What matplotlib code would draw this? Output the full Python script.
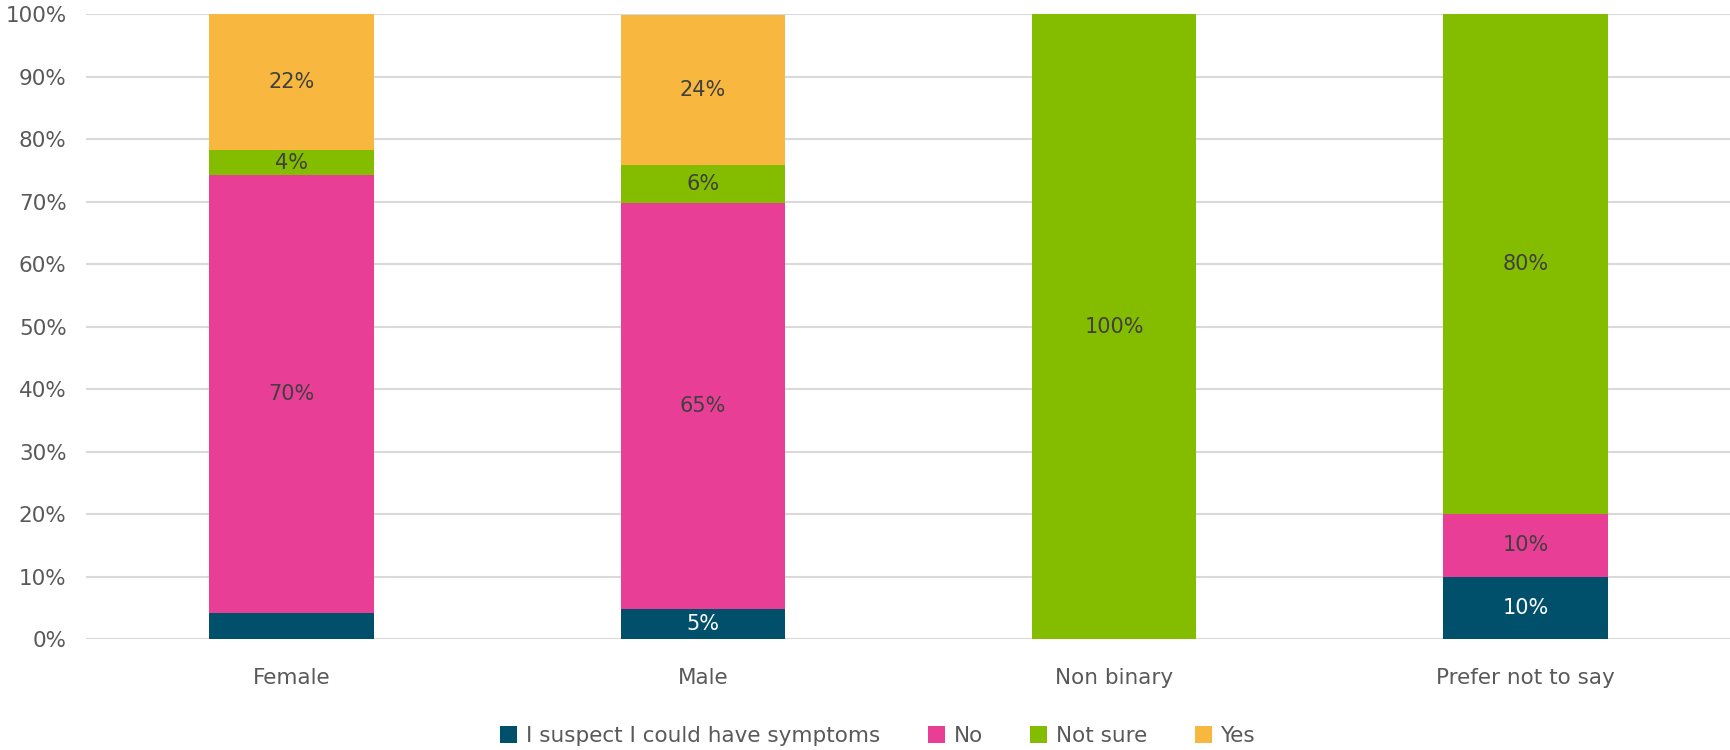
import matplotlib.pyplot as plt
import numpy as np

plt.rcParams['font.family'] = ['DejaVu Sans']

categories = ["Female", "Male", "Non binary", "Prefer not to say"]
series = ["I suspect I could have symptoms", "No", "Not sure", "Yes"]
suspect = [4.2, 4.8, 0, 10]
no = [70, 65, 0, 10]
not_sure = [4, 6, 100, 80]
yes = [22, 24, 0, 0]
colors = ["#00506b", "#e83e96", "#84bd00", "#f8b73e"]
text_colors = ["white", "#404040", "#404040", "#404040"]
hidden = {(0, 0)}  # female's bottom segment has no label in the original

fig = plt.figure(figsize=(17.31, 7.5), dpi=100)
ax = fig.add_axes([0.0497, 0.148, 0.9503, 0.833])

x = np.arange(len(categories))
bottom = np.zeros(len(categories))
for i, (name, vals) in enumerate(zip(series, [suspect, no, not_sure, yes])):
    vals = np.array(vals, dtype=float)
    ax.bar(x, vals, 0.4, bottom=bottom, color=colors[i], label=name, zorder=3)
    for j, v in enumerate(vals):
        if v > 0 and (i, j) not in hidden:
            ax.text(x[j], bottom[j] + v / 2, f"{v:.0f}%", ha="center", va="center",
                    color=text_colors[i], fontsize=15, zorder=4)
    bottom += vals

ax.set_xlim(-0.5, len(categories) - 0.5)
ax.set_ylim(0, 100)
ax.set_yticks(range(0, 101, 10))
ax.set_yticklabels([f"{t}%" for t in range(0, 101, 10)])
ax.set_xticks(x)
ax.set_xticklabels(categories)
ax.tick_params(axis="both", length=0, labelsize=15.5, labelcolor="#595959")
ax.tick_params(axis="x", pad=21)
ax.tick_params(axis="y", pad=14)
ax.grid(axis="y", color="#d9d9d9", linewidth=1.5, zorder=0)
for s in ax.spines.values():
    s.set_visible(False)

fig.legend(loc="center", bbox_to_anchor=(0.507, 0.019), ncol=4, frameon=False,
           fontsize=15.5, labelcolor="#595959", handlelength=0.8, handleheight=0.8,
           handletextpad=0.4, columnspacing=2.2)

fig.savefig("out.png", dpi=100)
